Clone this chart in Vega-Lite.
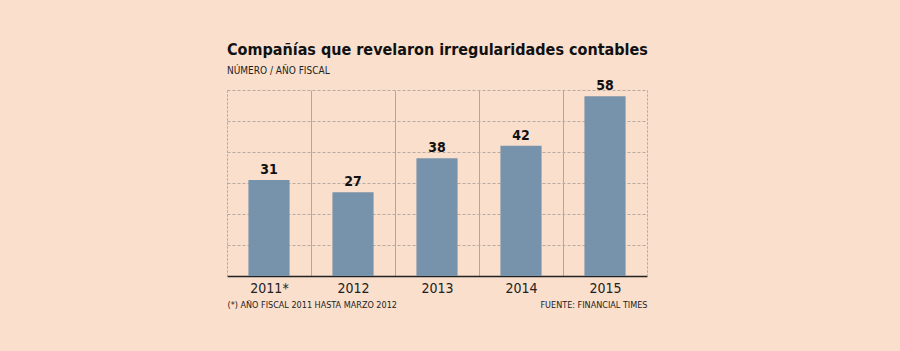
{
  "$schema": "https://vega.github.io/schema/vega-lite/v6.json",
  "autosize": "none",
  "width": 420,
  "height": 186,
  "padding": {"left": 227, "top": 90, "right": 253, "bottom": 75},
  "background": "#f9dfcc",
  "config": {
    "view": {"stroke": null},
    "font": "DejaVu Sans Condensed"
  },
  "title": {
    "text": "Compañías que revelaron irregularidades contables",
    "subtitle": "NÚMERO / AÑO FISCAL",
    "anchor": "start",
    "font": "DejaVu Sans Condensed",
    "fontSize": 16,
    "fontWeight": "bold",
    "color": "#111111",
    "subtitleFont": "DejaVu Sans Condensed",
    "subtitleFontSize": 10,
    "subtitleColor": "#222222",
    "subtitlePadding": 8,
    "offset": 3
  },
  "data": {
    "values": [
      {"year": "2011*", "value": 31},
      {"year": "2012", "value": 27},
      {"year": "2013", "value": 38},
      {"year": "2014", "value": 42},
      {"year": "2015", "value": 58}
    ]
  },
  "resolve": {"scale": {"y": "independent"}},
  "layer": [
    {
      "mark": {"type": "bar", "color": "#7793ac", "width": {"band": 0.49}},
      "encoding": {
        "x": {
          "field": "year",
          "type": "nominal",
          "sort": null,
          "scale": {"paddingInner": 0, "paddingOuter": 0},
          "axis": {
            "title": "(*) AÑO FISCAL 2011 HASTA MARZO 2012",
            "titleFont": "DejaVu Sans Condensed",
            "titleFontSize": 9,
            "titleFontWeight": "normal",
            "titleColor": "#222222",
            "titleAnchor": "start",
            "titleAlign": "left",
            "titleBaseline": "alphabetic",
            "titleX": 0,
            "titleY": 31,
            "labelAngle": 0,
            "labelFont": "DejaVu Sans Condensed",
            "labelFontSize": 14,
            "labelColor": "#222222",
            "labelPadding": 5,
            "ticks": false,
            "domainColor": "#222222",
            "domainWidth": 1.5,
            "grid": true,
            "tickBand": "extent",
            "gridColor": "#b3a69c",
            "gridWidth": 1,
            "gridDash": {"condition": {"test": "datum.value !== '2011*' && datum.value !== '2012' && datum.value !== '2013' && datum.value !== '2014'", "value": [2, 2]}, "value": []}
          }
        },
        "y": {
          "field": "value",
          "type": "quantitative",
          "scale": {"domain": [0, 60]},
          "axis": {
            "title": null,
            "labels": false,
            "ticks": false,
            "values": [10, 20, 30, 40, 50, 60],
            "grid": true,
            "gridDash": [3, 2],
            "gridColor": "#b8aaa0",
            "domain": true,
            "domainDash": [2, 2],
            "domainColor": "#b8aaa0"
          }
        }
      }
    },
    {
      "mark": {"type": "text", "baseline": "bottom", "dy": -3, "fontSize": 14, "fontWeight": "bold", "color": "#111111", "font": "DejaVu Sans Condensed"},
      "encoding": {
        "x": {"field": "year", "type": "nominal", "sort": null},
        "y": {
          "field": "value",
          "type": "quantitative",
          "scale": {"domain": [0, 60]},
          "axis": {
            "orient": "right",
            "title": "FUENTE: FINANCIAL TIMES",
            "titleAngle": 0,
            "titleFont": "DejaVu Sans Condensed",
            "titleFontSize": 9,
            "titleFontWeight": "normal",
            "titleColor": "#222222",
            "titleAlign": "right",
            "titleBaseline": "alphabetic",
            "titleX": 0,
            "titleY": 217,
            "labels": false,
            "ticks": false,
            "grid": false,
            "domain": true,
            "domainDash": [2, 2],
            "domainColor": "#b8aaa0"
          }
        },
        "text": {"field": "value", "type": "quantitative"}
      }
    }
  ]
}
